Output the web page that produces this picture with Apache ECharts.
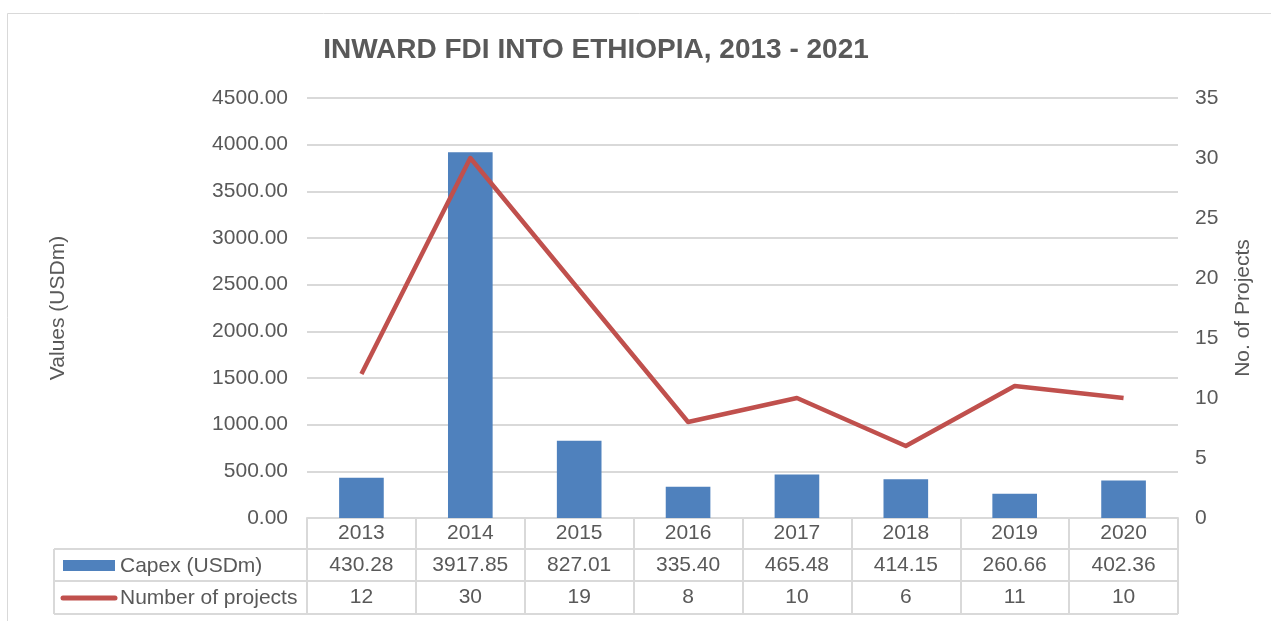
<!DOCTYPE html>
<html>
<head>
<meta charset="utf-8">
<script src="https://cdn.jsdelivr.net/npm/echarts@6/dist/echarts.min.js"></script>
<style>
html,body{margin:0;padding:0;background:#fff;}
#c{width:1271px;height:621px;}
</style>
</head>
<body>
<div id="c"></div>
<script>
var years = ['2013','2014','2015','2016','2017','2018','2019','2020'];
var capex = [430.28, 3917.85, 827.01, 335.40, 465.48, 414.15, 260.66, 402.36];
var projects = [12, 30, 19, 8, 10, 6, 11, 10];
var capexName = 'Capex (USDm)';
var projName = 'Number of projects';
var titleText = 'INWARD FDI INTO ETHIOPIA, 2013 - 2021';

var FONT = '"Liberation Sans", Arial, sans-serif';
var FS = 21;
var TXT = '#595959';
var GRID = '#d9d9d9';
var G = {left: 307, right: 93, top: 98, bottom: 103};
var W = 1271, H = 621;
var gridRightX = W - G.right;        // 1178
var rowYs = [549, 581, 614];
var tableLeft = 54;

var chart = echarts.init(document.getElementById('c'), null, {renderer: 'canvas'});

var graphics = [
  {type: 'rect', shape: {x: 7.5, y: 13.5, width: 1300, height: 700}, style: {fill: 'none', stroke: GRID, lineWidth: 1}, silent: true}
];
rowYs.forEach(function (y) {
  graphics.push({type: 'line', shape: {x1: tableLeft, y1: y, x2: gridRightX, y2: y}, style: {stroke: GRID, lineWidth: 2}, silent: true});
});
graphics.push({type: 'line', shape: {x1: tableLeft, y1: rowYs[0], x2: tableLeft, y2: rowYs[2]}, style: {stroke: GRID, lineWidth: 2}, silent: true});
// legend keys and row headers
graphics.push({type: 'rect', shape: {x: 63, y: 560, width: 52, height: 11}, style: {fill: '#4f81bd'}, silent: true});
graphics.push({type: 'text', x: 120, y: 566, style: {text: capexName, font: FS + 'px ' + FONT, fill: TXT, verticalAlign: 'middle', align: 'left'}, silent: true});
graphics.push({type: 'line', shape: {x1: 63, y1: 598, x2: 115, y2: 598}, style: {stroke: '#c0504d', lineWidth: 5, lineCap: 'round'}, silent: true});
graphics.push({type: 'text', x: 120, y: 598, style: {text: projName, font: FS + 'px ' + FONT, fill: TXT, verticalAlign: 'middle', align: 'left'}, silent: true});

var labelStyle = {fontFamily: FONT, fontSize: FS, color: TXT};

var option = {
  animation: false,
  backgroundColor: '#fff',
  title: {
    text: titleText,
    left: 591, top: 31, textAlign: 'center',
    textStyle: {fontFamily: FONT, fontSize: 28, fontWeight: 'bold', color: TXT}
  },
  grid: {left: G.left, right: G.right, top: G.top, bottom: G.bottom, containLabel: false},
  xAxis: [
    {
      type: 'category', data: years, position: 'bottom',
      axisLine: {show: true, lineStyle: {color: GRID, width: 2}},
      axisTick: {show: true, length: 96, lineStyle: {color: GRID, width: 2}},
      axisLabel: Object.assign({margin: 5}, labelStyle)
    },
    {
      type: 'category', data: capex.map(function (v) { return v.toFixed(2); }), position: 'bottom', offset: 32,
      axisLine: {show: false}, axisTick: {show: false}, splitLine: {show: false},
      axisLabel: Object.assign({margin: 5}, labelStyle)
    },
    {
      type: 'category', data: projects.map(String), position: 'bottom', offset: 64,
      axisLine: {show: false}, axisTick: {show: false}, splitLine: {show: false},
      axisLabel: Object.assign({margin: 5}, labelStyle)
    }
  ],
  yAxis: [
    {
      type: 'value', min: 0, max: 4500, interval: 500,
      name: 'Values (USDm)', nameLocation: 'middle', nameGap: 238, nameRotate: 90,
      nameTextStyle: labelStyle,
      axisLine: {show: false}, axisTick: {show: false},
      axisLabel: Object.assign({margin: 19, formatter: function (v) { return v.toFixed(2); }}, labelStyle),
      splitLine: {show: true, lineStyle: {color: GRID, width: 2}}
    },
    {
      type: 'value', min: 0, max: 35, interval: 5, position: 'right',
      name: 'No. of Projects', nameLocation: 'middle', nameGap: 55, nameRotate: 90,
      nameTextStyle: labelStyle,
      axisLine: {show: false}, axisTick: {show: false},
      axisLabel: Object.assign({margin: 17}, labelStyle),
      splitLine: {show: false}
    }
  ],
  series: [
    {
      name: capexName, type: 'bar', data: capex, xAxisIndex: 0, yAxisIndex: 0,
      barWidth: '41%', itemStyle: {color: '#4f81bd'}
    },
    {
      name: projName, type: 'line', data: projects, xAxisIndex: 0, yAxisIndex: 1,
      symbol: 'none', lineStyle: {color: '#c0504d', width: 4.5, join: 'round'}, itemStyle: {color: '#c0504d'}
    }
  ],
  graphic: graphics
};
chart.setOption(option);
</script>
</body>
</html>
